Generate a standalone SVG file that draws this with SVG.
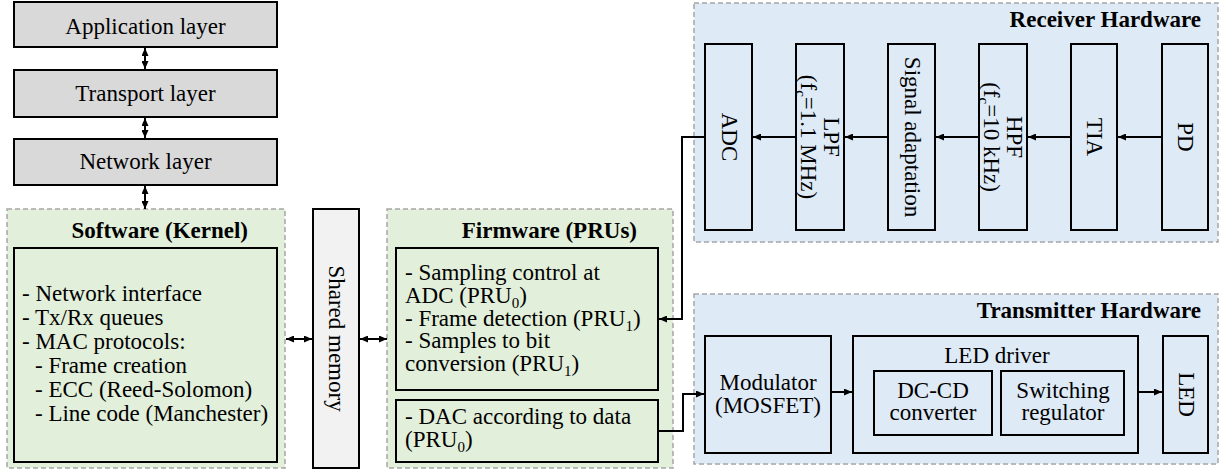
<svg xmlns="http://www.w3.org/2000/svg" width="1220" height="473" viewBox="0 0 1220 473" font-family="'Liberation Serif', 'DejaVu Serif', serif">
<defs>
<style>
text{font-family:'Liberation Serif','DejaVu Serif',serif;font-size:23px;fill:#000}
.t{font-weight:bold}
.m{text-anchor:middle}
.e{text-anchor:end}
.box{stroke:#000;stroke-width:2}
.gray{fill:#d9d9d9}
.green{fill:#e2efda}
.blue{fill:#deeaf6}
.shm{fill:#f2f2f2}
.cont{stroke:#a6a6a6;stroke-width:1.5;stroke-dasharray:5 3}
.c{fill:none;stroke:#000;stroke-width:2}
.sub{font-size:15px}
</style>
<marker id="ah" viewBox="0 0 8 7" refX="8" refY="3.5" markerWidth="8" markerHeight="7" markerUnits="userSpaceOnUse" orient="auto-start-reverse">
<path d="M0,0 L8,3.5 L0,7 z" fill="#000"/>
</marker>
</defs>

<g id="application-layer">
<rect class="box gray" x="14" y="2" width="263" height="45"/>
<text class="m" x="145.5" y="34">Application layer</text>
</g>
<g id="transport-layer">
<rect class="box gray" x="14" y="70" width="263" height="47"/>
<text class="m" x="145.5" y="101">Transport layer</text>
</g>
<g id="network-layer">
<rect class="box gray" x="14" y="139" width="263" height="46"/>
<text class="m" x="145.5" y="169">Network layer</text>
</g>

<g id="software-kernel">
<rect class="cont green" x="7" y="209" width="278" height="259"/>
<text class="t e" x="248" y="238">Software (Kernel)</text>
<rect class="box green" x="14" y="248" width="263" height="214"/>
<text x="22" y="301">- Network interface</text>
<text x="22" y="325">- Tx/Rx queues</text>
<text x="22" y="349">- MAC protocols:</text>
<text x="35" y="373">- Frame creation</text>
<text x="35" y="397">- ECC (Reed-Solomon)</text>
<text x="35" y="421">- Line code (Manchester)</text>
</g>

<g id="shared-memory">
<rect class="box shm" x="313" y="209" width="46" height="259"/>
<text class="m" transform="translate(336,338.5) rotate(90)" x="0" y="7">Shared memory</text>
</g>

<g id="firmware-prus">
<rect class="cont green" x="387" y="209" width="286" height="259"/>
<text class="t e" x="637" y="238">Firmware (PRUs)</text>
<rect class="box green" x="396" y="248" width="262" height="142"/>
<text x="405" y="280">- Sampling control at</text>
<text x="405" y="303">ADC (PRU<tspan class="sub" dy="5">0</tspan><tspan dy="-5">)</tspan></text>
<text x="405" y="326">- Frame detection (PRU<tspan class="sub" dy="5">1</tspan><tspan dy="-5">)</tspan></text>
<text x="405" y="348">- Samples to bit</text>
<text x="405" y="371">conversion (PRU<tspan class="sub" dy="5">1</tspan><tspan dy="-5">)</tspan></text>
<rect class="box green" x="396" y="400" width="262" height="62"/>
<text x="405" y="424">- DAC according to data</text>
<text x="405" y="447">(PRU<tspan class="sub" dy="5">0</tspan><tspan dy="-5">)</tspan></text>
</g>

<g id="receiver-hardware">
<rect class="cont blue" x="694" y="3" width="524" height="239"/>
<text class="t e" x="1201" y="27">Receiver Hardware</text>
</g>
<g id="adc">
<rect class="box blue" x="705" y="44" width="47" height="186"/>
<text class="m" transform="translate(728.5,137) rotate(90)" x="0" y="7">ADC</text>
</g>
<g id="lpf">
<rect class="box blue" x="796" y="44" width="48" height="186"/>
<text class="m" transform="translate(820,137) rotate(90)"><tspan x="0" y="-4">LPF</tspan><tspan x="0" y="19">(f<tspan class="sub" dy="5">c</tspan><tspan dy="-5">=1.1 MHz)</tspan></tspan></text>
</g>
<g id="signal-adaptation">
<rect class="box blue" x="888" y="44" width="47" height="186"/>
<text class="m" transform="translate(911.5,137) rotate(90)" x="0" y="7">Signal adaptation</text>
</g>
<g id="hpf">
<rect class="box blue" x="979" y="44" width="48" height="186"/>
<text class="m" transform="translate(1003,137) rotate(90)"><tspan x="0" y="-4">HPF</tspan><tspan x="0" y="19">(f<tspan class="sub" dy="5">c</tspan><tspan dy="-5">=10 kHz)</tspan></tspan></text>
</g>
<g id="tia">
<rect class="box blue" x="1071" y="44" width="46" height="186"/>
<text class="m" transform="translate(1094,137) rotate(90)" x="0" y="7">TIA</text>
</g>
<g id="pd">
<rect class="box blue" x="1162" y="44" width="46" height="186"/>
<text class="m" transform="translate(1185,137) rotate(90)" x="0" y="7">PD</text>
</g>

<g id="transmitter-hardware">
<rect class="cont blue" x="694" y="294" width="524" height="170"/>
<text class="t e" x="1201" y="318">Transmitter Hardware</text>
</g>
<g id="modulator">
<rect class="box blue" x="705" y="336" width="126" height="117"/>
<text class="m" x="768" y="390">Modulator</text>
<text class="m" x="768" y="413">(MOSFET)</text>
</g>
<g id="led-driver">
<rect class="box blue" x="853" y="336" width="285" height="117"/>
<text class="m" x="997" y="363">LED driver</text>
</g>
<g id="dc-cd-converter">
<rect class="box blue" x="874" y="371" width="118" height="64"/>
<text class="m" x="933" y="398">DC-CD</text>
<text class="m" x="933" y="420">converter</text>
</g>
<g id="switching-regulator">
<rect class="box blue" x="1001" y="371" width="123" height="64"/>
<text class="m" x="1063" y="398">Switching</text>
<text class="m" x="1063" y="420">regulator</text>
</g>
<g id="led">
<rect class="box blue" x="1163" y="336" width="45" height="117"/>
<text class="m" transform="translate(1185.5,394.5) rotate(90)" x="0" y="7">LED</text>
</g>

<g id="connectors">
<line class="c" x1="145" y1="48" x2="145" y2="69" marker-start="url(#ah)" marker-end="url(#ah)"/>
<line class="c" x1="145" y1="118" x2="145" y2="138" marker-start="url(#ah)" marker-end="url(#ah)"/>
<line class="c" x1="145" y1="186" x2="145" y2="209" marker-start="url(#ah)" marker-end="url(#ah)"/>
<line class="c" x1="286" y1="339" x2="312" y2="339" marker-start="url(#ah)" marker-end="url(#ah)"/>
<line class="c" x1="360" y1="339" x2="387" y2="339" marker-start="url(#ah)" marker-end="url(#ah)"/>
<line class="c" x1="1162" y1="137" x2="1118" y2="137" marker-end="url(#ah)"/>
<line class="c" x1="1071" y1="137" x2="1028" y2="137" marker-end="url(#ah)"/>
<line class="c" x1="979" y1="137" x2="936" y2="137" marker-end="url(#ah)"/>
<line class="c" x1="888" y1="137" x2="845" y2="137" marker-end="url(#ah)"/>
<line class="c" x1="796" y1="137" x2="753" y2="137" marker-end="url(#ah)"/>
<polyline class="c" points="705,137 682,137 682,319 659,319" marker-end="url(#ah)"/>
<polyline class="c" points="659,431 683,431 683,394 704,394" marker-end="url(#ah)"/>
<line class="c" x1="832" y1="392" x2="852" y2="392" marker-end="url(#ah)"/>
<line class="c" x1="1139" y1="392" x2="1162" y2="392" marker-end="url(#ah)"/>
</g>
</svg>
